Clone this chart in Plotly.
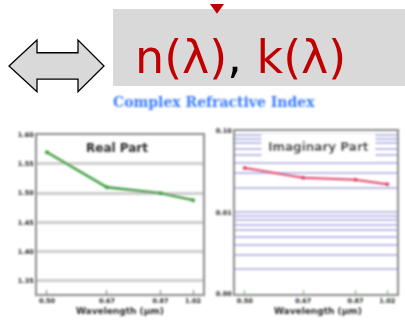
import plotly.graph_objects as go

# ---- data ----
wavelength = [0.50, 0.67, 0.87, 1.02]
wavelength_labels = ["0.50", "0.67", "0.87", "1.02"]
n_real = [1.570, 1.510, 1.500, 1.488]
k_imag = [0.035, 0.0266, 0.025, 0.022]

n_ticks = [1.35, 1.40, 1.45, 1.50, 1.55, 1.60]
n_tick_labels = ["1.35", "1.40", "1.45", "1.50", "1.55", "1.60"]
k_ticks = [0.001, 0.01, 0.1]
k_tick_labels = ["0.00", "0.01", "0.10"]
k_minor = [m * 10 ** e for e in (-3, -2) for m in range(2, 10)]

W, H = 405, 325


def px_x(x):
    return x / W


def px_y(y):
    return 1 - y / H


fig = go.Figure()

fig.add_trace(go.Scatter(
    x=wavelength, y=n_real, mode="lines+markers",
    line=dict(color="#3c9a3c", width=2.4),
    marker=dict(size=4, color="#3c9a3c"),
    xaxis="x", yaxis="y", showlegend=False))

fig.add_trace(go.Scatter(
    x=wavelength, y=k_imag, mode="lines+markers",
    line=dict(color="#e0406a", width=2),
    marker=dict(size=4, color="#e0406a"),
    xaxis="x2", yaxis="y2", showlegend=False))

tick_font = dict(family="DejaVu Sans", size=6.5, color="#222", weight="bold")
frame = dict(showline=True, mirror=True, linecolor="#8a8a8a", linewidth=2)

x_range = [-0.3222, 0.0298]

fig.update_layout(
    width=W, height=H,
    margin=dict(l=0, r=0, t=0, b=0),
    paper_bgcolor="white", plot_bgcolor="white",
    xaxis=dict(domain=[px_x(37), px_x(203)], anchor="y", type="log",
               range=x_range, tickvals=wavelength, ticktext=wavelength_labels,
               tickfont=tick_font, showgrid=False, zeroline=False,
               ticks="inside", ticklen=4, tickcolor="#777", **frame),
    yaxis=dict(domain=[px_y(297), px_y(134)], anchor="x",
               range=[1.328, 1.60], tickvals=n_ticks, ticktext=n_tick_labels,
               tickfont=tick_font, showgrid=True, gridcolor="#cdcdcd",
               gridwidth=2.5, zeroline=False, **frame),
    xaxis2=dict(domain=[px_x(235), px_x(397)], anchor="y2", type="log",
                range=x_range, tickvals=wavelength, ticktext=wavelength_labels,
                tickfont=tick_font, showgrid=False, zeroline=False,
                ticks="inside", ticklen=4, tickcolor="#5cb85c", **frame),
    yaxis2=dict(domain=[px_y(297), px_y(130)], anchor="x2", type="log",
                range=[-3, -1], tickvals=k_ticks, ticktext=k_tick_labels,
                tickfont=tick_font, showgrid=True, gridcolor="#bcbce8",
                gridwidth=1.6, zeroline=False,
                minor=dict(tickvals=k_minor, showgrid=True,
                           gridcolor="#bcbce8", gridwidth=1.6),
                **frame),
)

# grey caption box, pointer and double arrow
fig.add_shape(type="rect", xref="paper", yref="paper",
              x0=px_x(113), x1=px_x(405), y0=px_y(84), y1=px_y(5),
              fillcolor="#d9d9d9", line=dict(width=0), layer="below")
fig.add_shape(type="path", xref="paper", yref="paper",
              path=f"M {px_x(210)} {px_y(0)} L {px_x(224)} {px_y(0)} "
                   f"L {px_x(217)} {px_y(10)} Z",
              fillcolor="#c00000", line=dict(width=0))
arrow_pts = [(9, 63.5), (37, 37), (37, 50), (78, 50), (78, 37), (104, 63.5),
             (78, 90), (78, 77), (37, 77), (37, 90)]
arrow_path = "M " + " L ".join(f"{px_x(a)} {px_y(b)}" for a, b in arrow_pts) + " Z"
fig.add_shape(type="path", xref="paper", yref="paper", path=arrow_path,
              fillcolor="#d9d9d9", line=dict(color="black", width=1.3))

annotations = [
    dict(x=px_x(240), y=px_y(54),
         text='<span style="color:#c00000">n(λ)</span>, '
              '<span style="color:#c00000">k(λ)</span>',
         font=dict(family="DejaVu Sans", size=46, color="black")),
    dict(x=px_x(214), y=px_y(100), text="<b>Complex Refractive Index</b>",
         font=dict(family="DejaVu Serif", size=14, color="#3b7bff")),
    dict(x=px_x(117), y=px_y(148), text="<b>Real Part</b>",
         font=dict(family="DejaVu Sans", size=12, color="#2a2a2a")),
    dict(x=px_x(318), y=px_y(147), text="<b>Imaginary Part</b>",
         font=dict(family="DejaVu Sans", size=12, color="#2a2a2a"),
         bgcolor="white", borderpad=6),
    dict(x=px_x(120), y=px_y(315), text="<b>Wavelength (µm)</b>",
         font=dict(family="DejaVu Sans", size=9, color="#2a2a2a")),
    dict(x=px_x(318), y=px_y(315), text="<b>Wavelength (µm)</b>",
         font=dict(family="DejaVu Sans", size=9, color="#2a2a2a")),
]
for a in annotations:
    a.update(xref="paper", yref="paper", showarrow=False,
             xanchor="center", yanchor="middle")
fig.update_layout(annotations=annotations)

# soften the embedded chart graphic
soften = """
var gd = document.getElementById('{plot_id}');
var ns = 'http://www.w3.org/2000/svg';
var svg = gd.querySelector('svg.main-svg');
var defs = svg.querySelector('defs');
var f = document.createElementNS(ns, 'filter');
f.setAttribute('id', 'soft-chart');
f.setAttribute('x', '-10%'); f.setAttribute('y', '-10%');
f.setAttribute('width', '120%'); f.setAttribute('height', '120%');
var b = document.createElementNS(ns, 'feGaussianBlur');
b.setAttribute('stdDeviation', '1.1');
f.appendChild(b); defs.appendChild(f);
var targets = gd.querySelectorAll('.cartesianlayer, .annotation[data-index="1"], '
  + '.annotation[data-index="2"], .annotation[data-index="3"], '
  + '.annotation[data-index="4"], .annotation[data-index="5"]');
targets.forEach(function (el) { el.setAttribute('filter', 'url(#soft-chart)'); });
"""

fig.write_html("out.html", post_script=soften)
